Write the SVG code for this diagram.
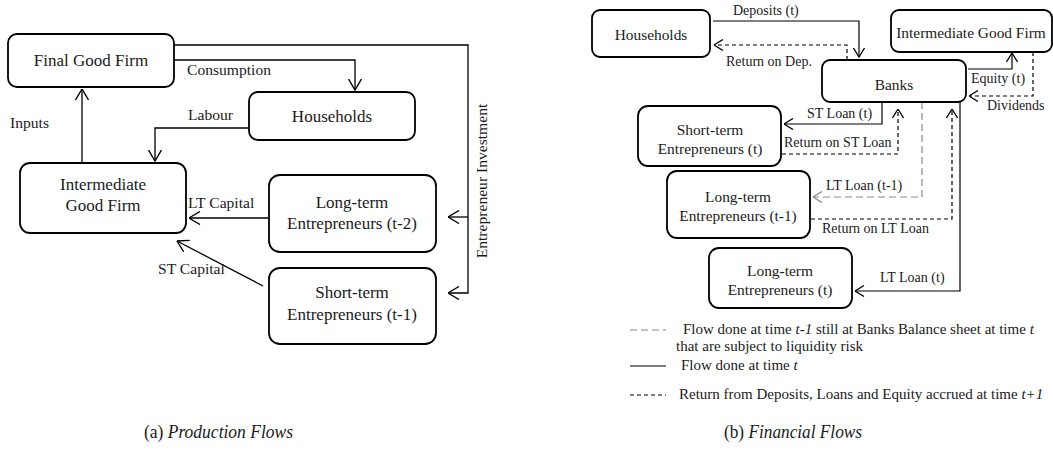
<svg xmlns="http://www.w3.org/2000/svg" width="1053" height="455" viewBox="0 0 1053 455">
<style>
.box{fill:#fff;stroke:#000;stroke-width:1.8}
.t{font-family:"Liberation Serif","Times New Roman",serif;fill:#1a1a1a}
.n17{font-size:17px;text-anchor:middle}
.n15{font-size:15.4px;text-anchor:middle}
.l16{font-size:15.6px}
.l14{font-size:14px}
.lg{font-size:15px}
.c{fill:none;stroke:#000;stroke-width:1.3}
.cs{fill:none;stroke:#000;stroke-width:1.2}
.dk{fill:none;stroke:#000;stroke-width:1.2;stroke-dasharray:4,3}
.gr{fill:none;stroke:#888;stroke-width:1.2;stroke-dasharray:7,4}
</style>
<defs>
<marker id="aL" viewBox="0 0 12 14" refX="11.5" refY="7" markerWidth="12" markerHeight="14" markerUnits="userSpaceOnUse" orient="auto">
<path d="M0.5,0.5 L11.5,7 L0.5,13.5" fill="none" stroke="#000" stroke-width="1.4"/>
</marker>
<marker id="aS" viewBox="0 0 10 12" refX="9.5" refY="6" markerWidth="10" markerHeight="12" markerUnits="userSpaceOnUse" orient="auto">
<path d="M0.5,0.5 L9.5,6 L0.5,11.5" fill="none" stroke="#000" stroke-width="1.3"/>
</marker>
<marker id="aG" viewBox="0 0 10 12" refX="9.5" refY="6" markerWidth="10" markerHeight="12" markerUnits="userSpaceOnUse" orient="auto">
<path d="M0.5,0.5 L9.5,6 L0.5,11.5" fill="none" stroke="#888" stroke-width="1.3"/>
</marker>
</defs>

<g id="connectors">
<!-- Production flows -->
<path class="c" d="M174,45 H468 V293 H448" marker-end="url(#aL)"/>
<path class="c" d="M468,217 H448" marker-end="url(#aL)"/>
<path class="c" d="M174,60 H355 V90" marker-end="url(#aL)"/>
<path class="c" d="M249,128 H155 V161" marker-end="url(#aL)"/>
<path class="c" d="M82,163 V89" marker-end="url(#aL)"/>
<path class="c" d="M269,218 H189" marker-end="url(#aL)"/>
<path class="c" d="M263,286 L177,241" marker-end="url(#aL)"/>
<!-- Financial flows -->
<path class="cs" d="M713,21 H859 V57" marker-end="url(#aS)"/>
<path class="dk" d="M847,60 V45 H714" marker-end="url(#aS)"/>
<path class="cs" d="M968,69 H1012 V53" marker-end="url(#aS)"/>
<path class="dk" d="M1033,52 V96 H969" marker-end="url(#aS)"/>
<path class="cs" d="M882,102 V124 H784" marker-end="url(#aS)"/>
<path class="dk" d="M782,154 H898 V109" marker-end="url(#aS)"/>
<path class="gr" d="M922,102 V197 H813" marker-end="url(#aG)"/>
<path class="dk" d="M811,219 H952 V109" marker-end="url(#aS)"/>
<path class="cs" d="M960,102 V291 H855" marker-end="url(#aS)"/>
<!-- legend lines -->
<path class="gr" d="M630,330 H666"/>
<path class="cs" d="M630,366 H666"/>
<path class="dk" d="M630,395 H666"/>
</g>

<g id="connector-labels" class="t">
<text class="l16" x="187" y="75">Consumption</text>
<text class="l16" x="188" y="120">Labour</text>
<text class="l16" x="10" y="128">Inputs</text>
<text class="l16" x="188" y="208">LT Capital</text>
<text class="l16" x="158" y="274">ST Capital</text>
<text class="l16" transform="translate(487,181) rotate(-90)" text-anchor="middle">Entrepreneur Investment</text>
<text class="l14" x="733" y="15">Deposits (t)</text>
<text class="l14" x="726" y="66">Return on Dep.</text>
<text class="l14" x="971" y="83">Equity (t)</text>
<text class="l14" x="987" y="110">Dividends</text>
<text class="l14" x="807" y="118">ST Loan (t)</text>
<text class="l14" x="784" y="147">Return on ST Loan</text>
<text class="l14" x="826" y="190">LT Loan (t-1)</text>
<text class="l14" x="822" y="233">Return on LT Loan</text>
<text class="l14" x="880" y="282">LT Loan (t)</text>
</g>

<g id="final-good-firm">
<rect class="box" x="8" y="34" width="166" height="53" rx="9"/>
<text class="t n17" x="91" y="66">Final Good Firm</text>
</g>
<g id="households-a">
<rect class="box" x="249" y="92" width="166" height="48" rx="9"/>
<text class="t n17" x="332" y="122">Households</text>
</g>
<g id="intermediate-good-firm-a">
<rect class="box" x="20" y="163" width="166" height="70" rx="10"/>
<text class="t n17" x="103" y="190">Intermediate</text>
<text class="t n17" x="103" y="211">Good Firm</text>
</g>
<g id="lt-entrepreneurs-t2">
<rect class="box" x="269" y="175" width="167" height="77" rx="11"/>
<text class="t n17" x="352" y="208">Long-term</text>
<text class="t n17" x="352" y="229">Entrepreneurs (t-2)</text>
</g>
<g id="st-entrepreneurs-t1">
<rect class="box" x="269" y="268" width="167" height="76" rx="11"/>
<text class="t n17" x="352" y="298">Short-term</text>
<text class="t n17" x="352" y="320">Entrepreneurs (t-1)</text>
</g>

<g id="households-b">
<rect class="box" x="592" y="10" width="118" height="47" rx="8"/>
<text class="t n15" x="651" y="40">Households</text>
</g>
<g id="intermediate-good-firm-b">
<rect class="box" x="891" y="10" width="161" height="42" rx="8"/>
<text class="t n15" x="971" y="38">Intermediate Good Firm</text>
</g>
<g id="banks">
<rect class="box" x="822" y="60" width="144" height="42" rx="8"/>
<text class="t n15" x="894" y="90">Banks</text>
</g>
<g id="st-entrepreneurs-t">
<rect class="box" x="638" y="106" width="143" height="60" rx="10"/>
<text class="t n15" x="710" y="135">Short-term</text>
<text class="t n15" x="710" y="154">Entrepreneurs (t)</text>
</g>
<g id="lt-entrepreneurs-t1">
<rect class="box" x="667" y="171" width="143" height="67" rx="10"/>
<text class="t n15" x="738" y="202">Long-term</text>
<text class="t n15" x="738" y="221">Entrepreneurs (t-1)</text>
</g>
<g id="lt-entrepreneurs-t">
<rect class="box" x="709" y="248" width="143" height="60" rx="10"/>
<text class="t n15" x="780" y="276">Long-term</text>
<text class="t n15" x="780" y="295">Entrepreneurs (t)</text>
</g>

<g id="legend" class="t lg">
<text x="683" y="334">Flow done at time <tspan font-style="italic">t-1</tspan> still at Banks Balance sheet at time <tspan font-style="italic">t</tspan></text>
<text x="676" y="351">that are subject to liquidity risk</text>
<text x="681" y="370">Flow done at time <tspan font-style="italic">t</tspan></text>
<text x="679" y="399">Return from Deposits, Loans and Equity accrued at time <tspan font-style="italic">t+1</tspan></text>
</g>

<g id="captions" class="t" font-size="18">
<text x="144" y="438" textLength="149" lengthAdjust="spacingAndGlyphs">(a) <tspan font-style="italic">Production Flows</tspan></text>
<text x="724" y="438" textLength="138" lengthAdjust="spacingAndGlyphs">(b) <tspan font-style="italic">Financial Flows</tspan></text>
</g>
</svg>
